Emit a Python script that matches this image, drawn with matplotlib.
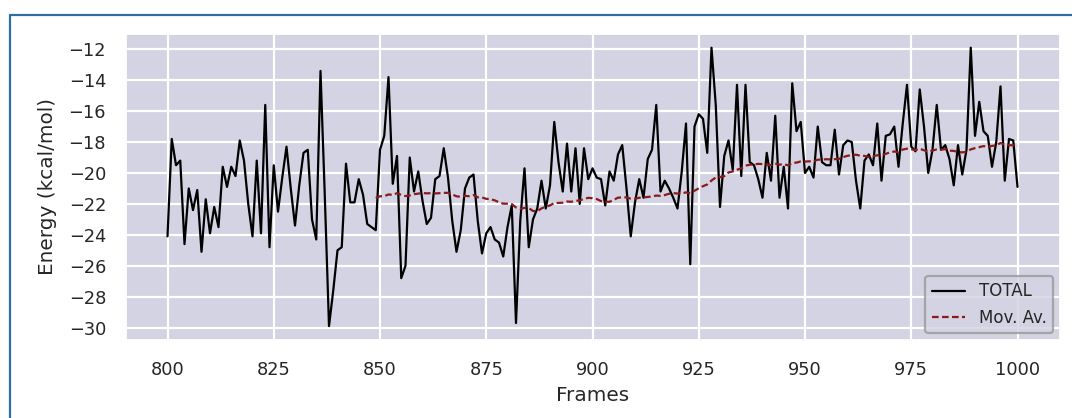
import numpy as np
import pandas as pd
import matplotlib
matplotlib.use("Agg")
import matplotlib.pyplot as plt
from matplotlib.lines import Line2D
import seaborn as sns

# Total interaction energy per frame (kcal/mol), frames 800..1000
frames = list(range(800, 1001))
total_energy = [
    -24.1, -17.8, -19.5, -19.2, -24.6, -21.0, -22.4, -21.1, -25.1, -21.7,
    -23.9, -22.2, -23.5, -19.6, -20.9, -19.6, -20.2, -17.9, -19.2, -22.0,
    -24.1, -19.2, -23.9, -15.6, -24.8, -19.5, -22.5, -20.3, -18.3, -21.0,
    -23.4, -20.8, -18.7, -18.5, -23.0, -24.3, -13.4, -21.4, -29.9, -27.6,
    -25.0, -24.8, -19.4, -21.9, -21.9, -20.4, -21.4, -23.3, -23.5, -23.7,
    -18.5, -17.6, -13.8, -20.7, -18.9, -26.8, -26.0, -19.0, -21.2, -19.9,
    -21.8, -23.3, -22.9, -20.4, -20.2, -18.4, -20.3, -23.1, -25.1, -23.7,
    -21.0, -20.3, -20.1, -23.1, -25.2, -23.9, -23.5, -24.3, -24.5, -25.4,
    -23.5, -22.1, -29.7, -23.1, -19.7, -24.8, -23.0, -22.3, -20.5, -22.3,
    -20.8, -16.7, -19.3, -21.2, -18.1, -21.2, -18.4, -22.0, -18.4, -20.4,
    -19.7, -20.3, -20.4, -22.1, -19.9, -20.5, -18.8, -18.2, -21.0, -24.1,
    -21.9, -20.4, -21.6, -19.1, -18.5, -15.6, -21.2, -20.5, -21.0, -21.6,
    -22.3, -19.9, -16.8, -25.9, -17.0, -16.2, -16.5, -18.7, -11.9, -15.6,
    -22.2, -18.9, -17.9, -19.8, -14.3, -20.2, -14.3, -19.3, -19.5, -20.4,
    -21.6, -18.7, -20.5, -16.3, -21.6, -19.6, -22.3, -14.2, -17.3, -16.7,
    -20.0, -19.6, -20.3, -17.0, -19.3, -19.5, -19.5, -17.2, -20.1, -18.2,
    -17.9, -18.0, -20.5, -22.3, -19.2, -18.8, -19.5, -16.8, -20.5, -17.6,
    -17.5, -17.0, -19.6, -16.8, -14.3, -18.3, -18.6, -14.6, -17.0, -20.0,
    -18.5, -15.6, -18.5, -18.2, -19.1, -20.8, -18.2, -20.1, -18.5, -11.9,
    -17.6, -15.4, -17.3, -17.6, -19.6, -18.0, -14.4, -20.5, -17.8, -17.9,
    -20.9,
]
window = 50

sns.set_theme(style="darkgrid")
plt.rcParams["font.family"] = ["DejaVu Sans"]

df = pd.DataFrame({"frame": frames, "total": total_energy})
df["mov_av"] = df["total"].rolling(window).mean()

DPI = 160
fig = plt.figure(figsize=(1072 / DPI, 418 / DPI), dpi=DPI)
ax = fig.add_axes([125 / 1072, 1 - 340 / 418, (1060 - 125) / 1072, (340 - 33) / 418])
ax.set_facecolor("#D3D3E3")

ax.plot(df["frame"], df["total"], color="black", lw=1.0, label="TOTAL")
ax.plot(df["frame"], df["mov_av"], color="#8B1A1A", lw=1.0, ls="--",
        dashes=(3, 1.5), label="Mov. Av.")

ax.set_xlim(790, 1010)
ax.set_ylim(-30.8, -10.95)
ax.set_xticks(range(800, 1001, 25))
ax.set_yticks(range(-30, -11, 2))
ax.set_xlabel("Frames", fontsize=9, labelpad=3, color="#262626")
ax.set_ylabel("Energy (kcal/mol)", fontsize=9, labelpad=5, color="#262626")
ax.tick_params(axis="both", labelsize=8, length=0, labelcolor="#262626")
ax.tick_params(axis="y", pad=8.5)
ax.tick_params(axis="x", pad=9.5)

leg = ax.legend(loc="lower right", fontsize=7.5, frameon=True, borderaxespad=0.4)
leg.get_frame().set_edgecolor("0.6")
leg.get_frame().set_facecolor("#D3D3E3")

# Blue frame around the figure (left and top edges)
frame_color = "#2F6EA5"
x0 = 10 / 1072
y0 = 1 - 15 / 418
fig.add_artist(Line2D([x0, x0], [0, y0], transform=fig.transFigure,
                      color=frame_color, lw=1.0))
fig.add_artist(Line2D([x0, 1], [y0, y0], transform=fig.transFigure,
                      color=frame_color, lw=1.0))

fig.savefig("out.png", dpi=DPI, facecolor="white")
